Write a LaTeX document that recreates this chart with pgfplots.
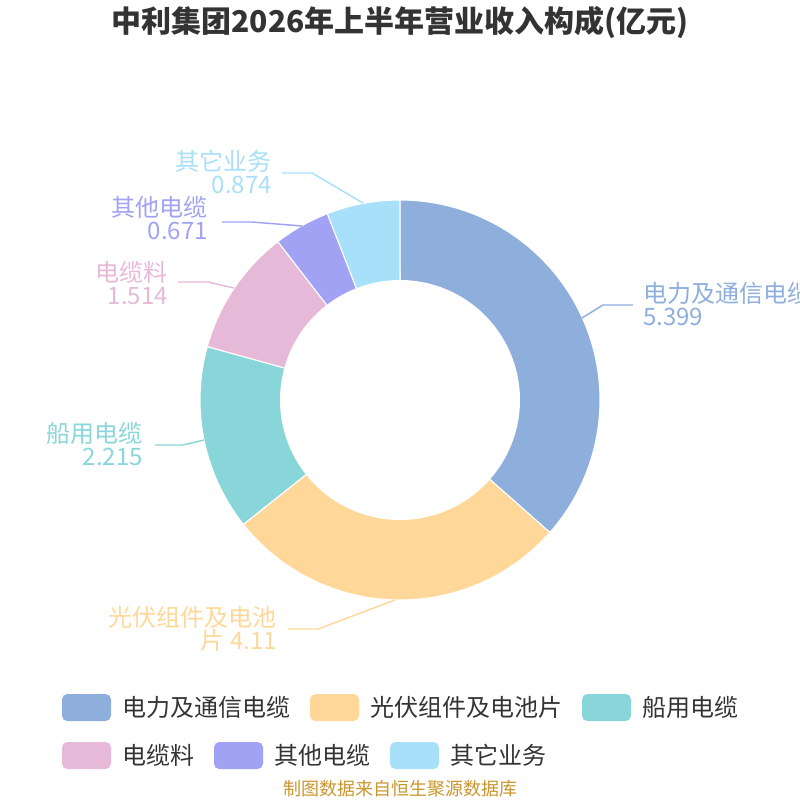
\documentclass[border=0pt]{standalone}
\usepackage{fontspec}
\setmainfont{Noto Sans CJK SC}
\usepackage{pgfplots}
\pgfplotsset{compat=1.18}
\definecolor{cA}{HTML}{8EAEDB}
\definecolor{cB}{HTML}{FFD899}
\definecolor{cC}{HTML}{88D6D9}
\definecolor{cD}{HTML}{E6B9D8}
\definecolor{cE}{HTML}{A2A2F5}
\definecolor{cF}{HTML}{A8DFF9}
\definecolor{tx}{HTML}{333333}
\definecolor{src}{HTML}{C9962C}
% data (亿元)
\def\vA{5.399}\def\vB{4.11}\def\vC{2.215}\def\vD{1.514}\def\vE{0.671}\def\vF{0.874}
\begin{document}
\begin{tikzpicture}
\pgfmathsetmacro\tot{\vA+\vB+\vC+\vD+\vE+\vF}
\pgfmathsetmacro\aA{0}
\pgfmathsetmacro\aB{\aA+\vA/\tot*360}
\pgfmathsetmacro\aC{\aB+\vB/\tot*360}
\pgfmathsetmacro\aD{\aC+\vC/\tot*360}
\pgfmathsetmacro\aE{\aD+\vD/\tot*360}
\pgfmathsetmacro\aF{\aE+\vE/\tot*360}
\pgfmathsetmacro\aG{\aF+\vF/\tot*360}
\begin{axis}[name=ax, width=600pt, height=600pt, scale only axis,
  xmin=0, xmax=800, ymin=0, ymax=800, y dir=reverse,
  hide axis, clip=false]
% slices
\addplot[fill=cA, draw=white, line width=0.8pt, domain=\aA:\aB, samples=90, variable=\t] ({400+200*sin(\t)},{400-200*cos(\t)}) -- (axis cs:400,400) -- cycle;
\addplot[fill=cB, draw=white, line width=0.8pt, domain=\aB:\aC, samples=90, variable=\t] ({400+200*sin(\t)},{400-200*cos(\t)}) -- (axis cs:400,400) -- cycle;
\addplot[fill=cC, draw=white, line width=0.8pt, domain=\aC:\aD, samples=60, variable=\t] ({400+200*sin(\t)},{400-200*cos(\t)}) -- (axis cs:400,400) -- cycle;
\addplot[fill=cD, draw=white, line width=0.8pt, domain=\aD:\aE, samples=50, variable=\t] ({400+200*sin(\t)},{400-200*cos(\t)}) -- (axis cs:400,400) -- cycle;
\addplot[fill=cE, draw=white, line width=0.8pt, domain=\aE:\aF, samples=40, variable=\t] ({400+200*sin(\t)},{400-200*cos(\t)}) -- (axis cs:400,400) -- cycle;
\addplot[fill=cF, draw=white, line width=0.8pt, domain=\aF:\aG, samples=40, variable=\t] ({400+200*sin(\t)},{400-200*cos(\t)}) -- (axis cs:400,400) -- cycle;
% hole
\addplot[fill=white, draw=none, domain=0:360, samples=180, variable=\t] ({400+120*sin(\t)},{400-120*cos(\t)}) -- cycle;
% label lines
\addplot[cA, line width=1.1pt] coordinates {(582,318) (603,305) (633,305)};
\addplot[cB, line width=1.1pt] coordinates {(395,600) (318,629) (288,629)};
\addplot[cC, line width=1.1pt] coordinates {(204,440) (183,445) (155,445)};
\addplot[cD, line width=1.1pt] coordinates {(234,288) (208,282) (178,282)};
\addplot[cE, line width=1.1pt] coordinates {(302,226) (252,222) (222,222)};
\addplot[cF, line width=1.1pt] coordinates {(363,203) (312,173) (282,173)};
% labels
\tikzset{lab/.style={font=\fontsize{18pt}{17.25pt}\selectfont, inner sep=0pt}}
\node[lab, text=cA, anchor=west, align=left] at (axis cs:643,304) {电力及通信电缆\\5.399};
\node[lab, text=cB, anchor=east, align=right] at (axis cs:277,629) {光伏组件及电池\\片 4.11};
\node[lab, text=cC, anchor=east, align=right] at (axis cs:143,444) {船用电缆\\2.215};
\node[lab, text=cD, anchor=east, align=right] at (axis cs:168,283) {电缆料\\1.514};
\node[lab, text=cE, anchor=east, align=right] at (axis cs:208,218) {其他电缆\\0.671};
\node[lab, text=cF, anchor=east, align=right] at (axis cs:272,172) {其它业务\\0.874};
% title
\node[font=\fontsize{22.5pt}{26pt}\selectfont\bfseries, text=tx, inner sep=0pt] at (axis cs:400,22) {中利集团2026年上半年营业收入构成(亿元)};
% legend
\tikzset{leg/.style={font=\fontsize{18pt}{20pt}\selectfont, text=tx, anchor=west, inner sep=0pt}}
\fill[cA, rounded corners=4pt] (axis cs:62,694) rectangle (axis cs:111,721);
\node[leg] at (axis cs:122,707) {电力及通信电缆};
\fill[cB, rounded corners=4pt] (axis cs:310,694) rectangle (axis cs:359,721);
\node[leg] at (axis cs:370,707) {光伏组件及电池片};
\fill[cC, rounded corners=4pt] (axis cs:582,694) rectangle (axis cs:631,721);
\node[leg] at (axis cs:642,707) {船用电缆};
\fill[cD, rounded corners=4pt] (axis cs:62,742) rectangle (axis cs:111,769);
\node[leg] at (axis cs:122,755) {电缆料};
\fill[cE, rounded corners=4pt] (axis cs:214,742) rectangle (axis cs:263,769);
\node[leg] at (axis cs:274,755) {其他电缆};
\fill[cF, rounded corners=4pt] (axis cs:390,742) rectangle (axis cs:439,769);
\node[leg] at (axis cs:450,755) {其它业务};
% source
\node[font=\fontsize{13.5pt}{15pt}\selectfont, text=src, inner sep=0pt] at (axis cs:400,789) {制图数据来自恒生聚源数据库};
\end{axis}
\pgfresetboundingbox
\useasboundingbox (ax.south west) rectangle (ax.north east);
\end{tikzpicture}
\end{document}
